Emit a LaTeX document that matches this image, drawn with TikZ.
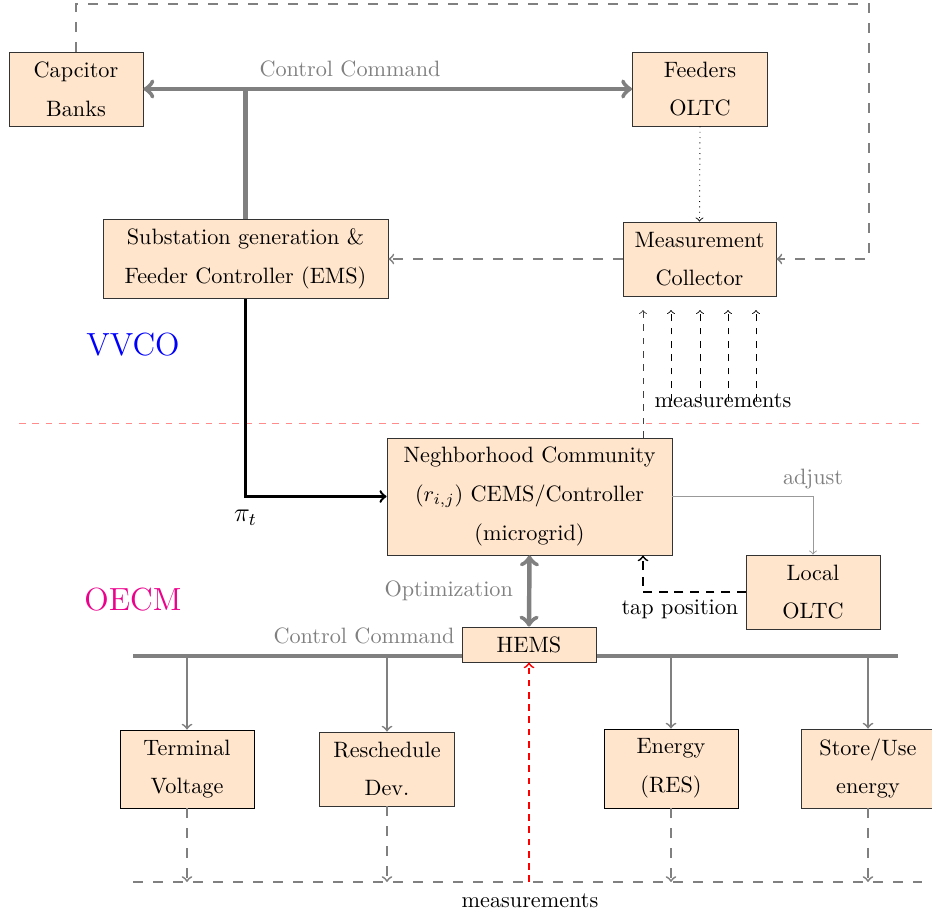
\documentclass[tikz,border=0pt]{standalone}
\begin{document}
\definecolor{oecmpink}{RGB}{236,0,140}
\begin{tikzpicture}[x=0.45pt,y=-0.45pt,
  blk/.style={draw=black!80, fill=orange!20, align=center, inner sep=1pt,
              font=\linespread{1.45}\selectfont},
  ctrl/.style={gray, line width=2pt},
  gdash/.style={gray, thick, dash pattern=on 4.5pt off 4.5pt},
  meas/.style={black, dashed, ->},
  lbl/.style={text=gray}]
\useasboundingbox (0,0) rectangle (932,920);

% guide coordinates
\coordinate (topL) at (76,4);
\coordinate (topR) at (869,4);
\coordinate (sepL) at (19,423);
\coordinate (sepR) at (920,423);
\coordinate (busL) at (133,656);
\coordinate (busR) at (898,656);
\coordinate (mbL) at (133,882);
\coordinate (mbR) at (922,882);

% household control bus (drawn below the HEMS box)
\draw[ctrl] (busL) -- (busR);

% upper level: VVCO
\node[blk, minimum width=60.3pt, minimum height=33.3pt] (cap) at (76,89) {Capcitor\\Banks};
\node[blk, minimum width=60.75pt, minimum height=33.3pt] (feed) at (700,89) {Feeders\\OLTC};
\node[blk, minimum width=128.25pt, minimum height=35.55pt] (sub) at (245.5,259)
  {Substation generation \&\\Feeder Controller (EMS)};
\node[blk, minimum width=68.85pt, minimum height=33.3pt] (mc) at (699.5,259) {Measurement\\Collector};

% lower level: OECM
\node[blk, minimum width=128.25pt, minimum height=52.65pt] (nc) at (529.5,496.5)
  {Neghborhood Community\\$(r_{i,j})$ CEMS/Controller\\(microgrid)};
\node[blk, minimum width=60.3pt, minimum height=33.3pt] (lo) at (813,592) {Local\\OLTC};
\node[blk, minimum width=60.3pt, minimum height=15.75pt] (hems) at (529,644.5) {HEMS};
\node[blk, draw=black, minimum width=60.3pt, minimum height=35.1pt] (tv) at (187,769) {Terminal\\Voltage};
\node[blk, minimum width=60.75pt, minimum height=33.3pt] (rd) at (387,769) {Reschedule\\Dev.};
\node[blk, draw=black, minimum width=60.3pt, minimum height=35.55pt] (en) at (671,768.5) {Energy\\(RES)};
\node[blk, minimum width=60.3pt, minimum height=35.55pt] (su) at (868,768.5) {Store/Use\\energy};

% region labels
\node[text=blue, font=\Large] (vvco) at (133,345) {VVCO};
\node[text=oecmpink, font=\Large] (oecm) at (133,600) {OECM};

% separator between the two levels
\draw[red!45, dashed] (sepL) -- (sepR);

% control commands from the EMS
\draw[ctrl, <->] (cap.east) -- (feed.west);
\draw[ctrl] (sub.north) -- (sub.north |- cap.east);
\node[lbl] (cctop) at (350,69) {Control Command};

% measurement paths of the upper level
\draw[gdash, ->] (cap.north) -- (topL) -- (topR) |- (mc.east);
\draw[dotted, ->] (feed.south) -- (mc.north);
\draw[gdash, ->] (mc.west) -- (sub.east);

% price signal to the community controller
\draw[line width=1.1pt, ->] (sub.south) |- (nc.west) node[pos=0.5, below=2pt, font=\large] {$\pi_t$};

% measurements sent up to the collector
\coordinate (m0) at (643,310);
\node (mtop) at (723,401) {measurements};
\draw[meas, black!75] (nc.north -| m0) -- (m0);
\foreach \mx/\mn in {671/m1,700/m2,728/m3,756/m4}{
  \coordinate (\mn) at (\mx,310);
  \draw[meas] (mtop.center -| \mn) -- (\mn);
}

% local OLTC loop
\draw[gray!80, ->] (nc.east) -| (lo.north) node[pos=0.5, above, lbl] {adjust};
\draw[thick, dash pattern=on 4pt off 3pt, ->] (lo.west) -| (nc.south -| m0)
  node[pos=0.32, below] {tap position};

% community controller and HEMS
\draw[ctrl, <->] (nc.south) -- (hems.north) node[midway, left=3pt, lbl] {Optimization};
\node[lbl] (ccbus) at (364,636) {Control Command};

% commands to household devices
\foreach \d in {tv,rd,en,su}{
  \draw[gray, thick, ->] (busL -| \d.north) -- (\d.north);
  \draw[gdash, ->] (\d.south) -- (\d.south |- mbL);
}

% measurement bus back to the HEMS
\draw[gdash] (mbL) -- (mbR);
\draw[red, thick, dash pattern=on 3pt off 2.5pt, ->] (hems.south |- mbL) -- (hems.south);
\node (mbot) at (530,901) {measurements};
\end{tikzpicture}
\end{document}
